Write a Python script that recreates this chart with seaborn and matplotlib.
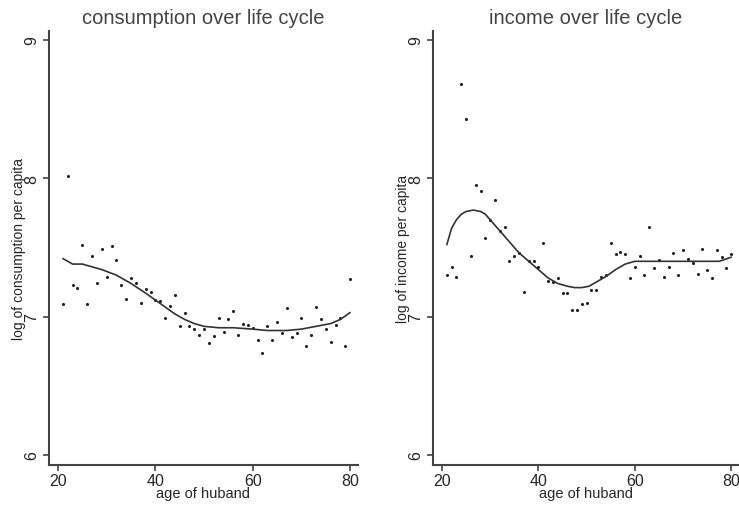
import numpy as np
import pandas as pd
import matplotlib
matplotlib.use("Agg")
import matplotlib.pyplot as plt
import seaborn as sns

# --- data ---
ages = list(range(21, 81))

log_cons = [7.09, 8.02, 7.23, 7.21, 7.52, 7.09, 7.44, 7.24, 7.49, 7.29,
            7.51, 7.41, 7.23, 7.13, 7.28, 7.24, 7.10, 7.20, 7.18, 7.12,
            7.11, 6.99, 7.08, 7.16, 6.93, 7.03, 6.93, 6.91, 6.87, 6.91,
            6.81, 6.86, 6.99, 6.89, 6.98, 7.04, 6.87, 6.95, 6.94, 6.92,
            6.83, 6.74, 6.93, 6.83, 6.96, 6.88, 7.06, 6.85, 6.88, 6.99,
            6.79, 6.87, 7.07, 6.98, 6.91, 6.82, 6.94, 6.99, 6.79, 7.27]

log_inc = [7.30, 7.36, 7.29, 8.68, 8.43, 7.44, 7.95, 7.91, 7.57, 7.70,
           7.84, 7.62, 7.65, 7.40, 7.44, 7.46, 7.18, 7.40, 7.40, 7.36,
           7.53, 7.26, 7.25, 7.28, 7.17, 7.17, 7.05, 7.05, 7.09, 7.10,
           7.19, 7.19, 7.29, 7.30, 7.53, 7.45, 7.47, 7.45, 7.28, 7.36,
           7.44, 7.30, 7.65, 7.35, 7.41, 7.29, 7.36, 7.46, 7.30, 7.48,
           7.42, 7.39, 7.31, 7.49, 7.34, 7.28, 7.48, 7.43, 7.35, 7.45]

# smoothed curves (lowess-like), read at selected ages
cons_fit_age = [21, 23, 25, 27, 29, 32, 35, 38, 40, 42, 44, 46, 48, 50,
                53, 56, 60, 63, 67, 70, 73, 76, 78, 80]
cons_fit = [7.42, 7.38, 7.38, 7.36, 7.34, 7.30, 7.24, 7.17, 7.12, 7.07,
            7.02, 6.98, 6.95, 6.93, 6.92, 6.92, 6.91, 6.90, 6.90, 6.91,
            6.93, 6.95, 6.98, 7.03]

inc_fit_age = [21, 22, 23, 24, 25, 26.5, 28, 29, 30, 32, 34, 36, 38, 40,
               42, 44, 46, 47.5, 49, 50.5, 52, 54, 56, 58, 60, 62, 66,
               70, 74, 77.5, 80]
inc_fit = [7.52, 7.64, 7.70, 7.74, 7.76, 7.77, 7.76, 7.74, 7.70, 7.62,
           7.54, 7.46, 7.40, 7.34, 7.28, 7.24, 7.22, 7.21, 7.21, 7.22,
           7.25, 7.29, 7.34, 7.38, 7.40, 7.40, 7.40, 7.40, 7.40, 7.40, 7.43]

y_ticks = [6, 7, 8, 9]
x_ticks = [20, 40, 60, 80]

panels = [
    ("consumption over life cycle", "log of consumption per capita",
     log_cons, cons_fit_age, cons_fit),
    ("income over life cycle", "log of income per capita",
     log_inc, inc_fit_age, inc_fit),
]

sns.set_style("ticks")
plt.rcParams['font.family'] = ['Liberation Sans', 'DejaVu Sans']

fig = plt.figure(figsize=(7.39, 5.06), dpi=100)
positions = [[0.0663, 0.079, 0.418, 0.858],
             [0.586, 0.079, 0.414, 0.858]]

for pos, (title, ylab, pts, fit_x, fit_y) in zip(positions, panels):
    ax = fig.add_axes(pos)
    df_pts = pd.DataFrame({"age": ages, "val": pts})
    df_fit = pd.DataFrame({"age": fit_x, "val": fit_y})
    sns.scatterplot(data=df_pts, x="age", y="val", ax=ax, s=5,
                    color="#222222", linewidth=0)
    sns.lineplot(data=df_fit, x="age", y="val", ax=ax, color="#333333",
                 linewidth=1.2)
    ax.set_xlim(18.15, 81.6)
    ax.set_ylim(5.928, 9.065)
    ax.set_xticks(x_ticks)
    ax.set_yticks(y_ticks)
    ax.tick_params(axis='y', labelrotation=90, labelsize=11.5, length=4,
                   width=1.2, color="#444444", pad=3)
    ax.tick_params(axis='x', labelsize=11.5, length=4, width=1.2,
                   color="#444444", pad=2)
    for lab in ax.get_yticklabels():
        lab.set_verticalalignment('center')
    for side in ['top', 'right']:
        ax.spines[side].set_visible(False)
    for side in ['left', 'bottom']:
        ax.spines[side].set_linewidth(1.5)
        ax.spines[side].set_color("#444444")
    ax.set_title(title, fontsize=14.5, color="#444444", pad=6)
    ax.set_xlabel("age of huband", fontsize=10.5, labelpad=-2)
    ax.set_ylabel(ylab, fontsize=10, labelpad=-1)

fig.savefig("out.png", dpi=100)
